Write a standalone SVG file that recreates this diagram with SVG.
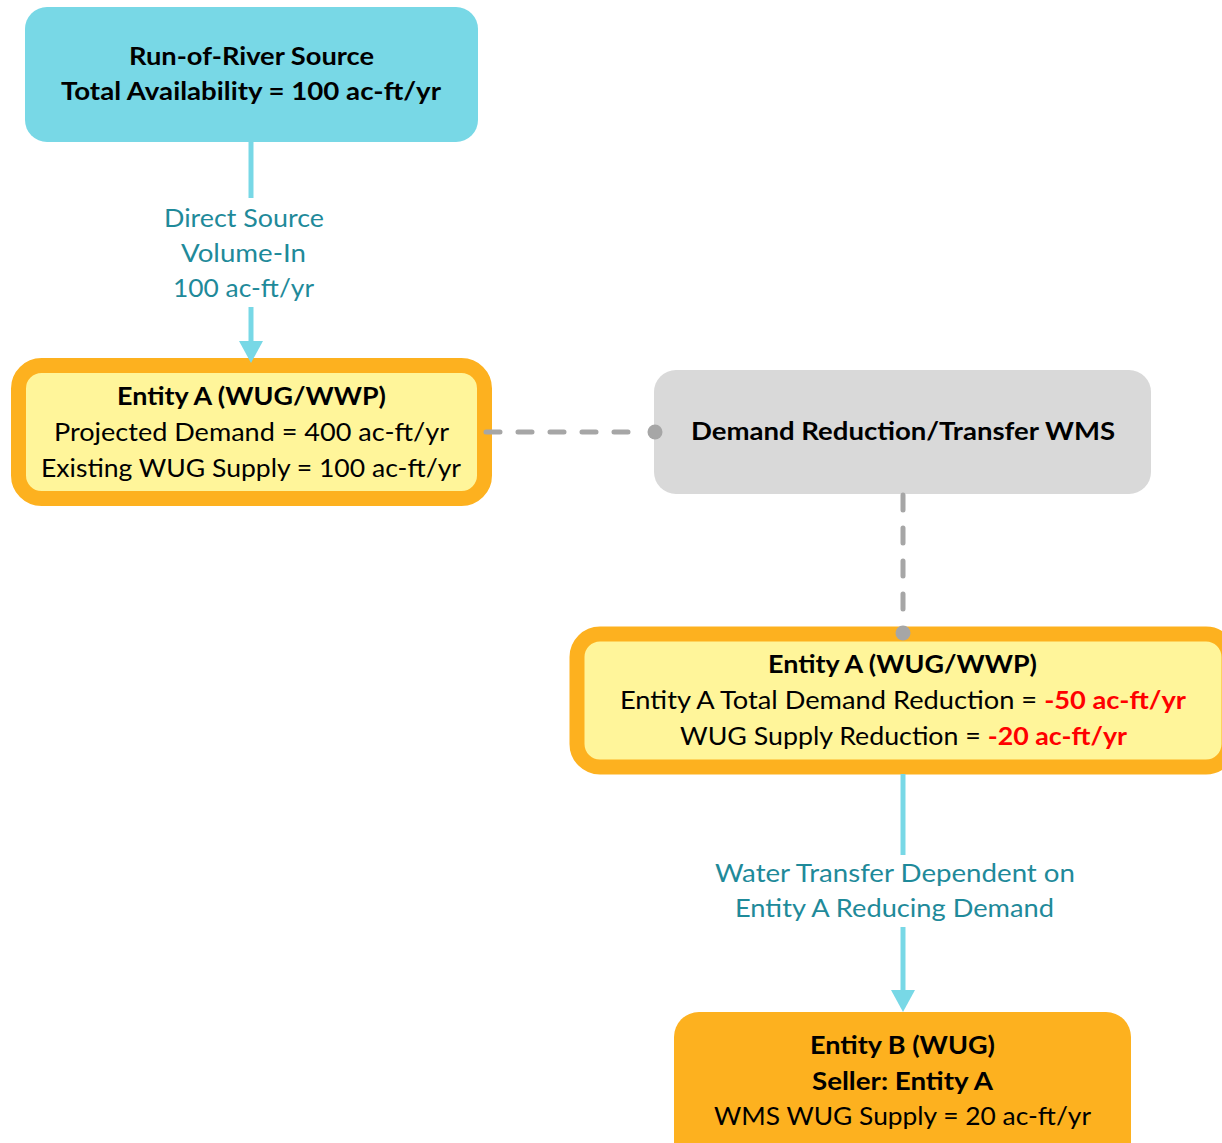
<svg xmlns="http://www.w3.org/2000/svg" width="1222" height="1143" viewBox="0 0 1222 1143">
<defs>
<style>
text{font-family:Lato,"Liberation Sans",sans-serif;font-size:25px;text-anchor:middle;fill:#000}
.b{font-weight:bold}
.red{fill:#FF0000;font-weight:bold}
.lbl{fill:#1F8A9A}
.flow{stroke:#78D8E6;stroke-width:5;fill:none}
.dash{stroke:#A6A6A6;stroke-width:5;fill:none;stroke-linecap:round}
.dot{fill:#A6A6A6}
.ent{fill:#FFF59A;stroke:#FDB11F;stroke-width:15}
</style>
<marker id="arr" markerUnits="userSpaceOnUse" markerWidth="24" markerHeight="24" viewBox="0 0 22 24" refX="0" refY="12" orient="auto">
<path d="M0,0 L22,12 L0,24 z" fill="#78D8E6"/>
</marker>
</defs>
<g id="source">
<rect x="25" y="7" width="453" height="135" rx="22" fill="#78D8E6"/>
<text class="b" x="251.5" y="65" textLength="245" lengthAdjust="spacingAndGlyphs">Run-of-River Source</text>
<text class="b" x="251" y="100" textLength="380" lengthAdjust="spacingAndGlyphs">Total Availability = 100 ac-ft/yr</text>
</g>
<g id="entityA1">
<rect class="ent" x="18.5" y="365.5" width="466" height="133" rx="23"/>
<text class="b" x="251.5" y="405" textLength="269" lengthAdjust="spacingAndGlyphs">Entity A (WUG/WWP)</text>
<text x="251.5" y="441" textLength="395" lengthAdjust="spacingAndGlyphs">Projected Demand = 400 ac-ft/yr</text>
<text x="251" y="477" textLength="420" lengthAdjust="spacingAndGlyphs">Existing WUG Supply = 100 ac-ft/yr</text>
</g>
<g id="wms">
<rect x="654" y="370" width="497" height="124" rx="22" fill="#D9D9D9"/>
<text class="b" x="903" y="440" textLength="424" lengthAdjust="spacingAndGlyphs">Demand Reduction/Transfer WMS</text>
</g>
<g id="entityA2">
<rect class="ent" x="577" y="634" width="652" height="133" rx="23"/>
<text class="b" x="902.5" y="673" textLength="269" lengthAdjust="spacingAndGlyphs">Entity A (WUG/WWP)</text>
<text x="903" y="709" textLength="566" lengthAdjust="spacingAndGlyphs">Entity A Total Demand Reduction = <tspan class="red">-50 ac-ft/yr</tspan></text>
<text x="903.5" y="745" textLength="447" lengthAdjust="spacingAndGlyphs">WUG Supply Reduction = <tspan class="red">-20 ac-ft/yr</tspan></text>
</g>
<g id="entityB">
<rect x="674" y="1012" width="457" height="160" rx="25" fill="#FDB11F"/>
<text class="b" x="902.5" y="1054" textLength="185" lengthAdjust="spacingAndGlyphs">Entity B (WUG)</text>
<text class="b" x="902.5" y="1090" textLength="181" lengthAdjust="spacingAndGlyphs">Seller: Entity A</text>
<text x="902.5" y="1125" textLength="377" lengthAdjust="spacingAndGlyphs">WMS WUG Supply = 20 ac-ft/yr</text>
</g>
<g id="connectors">
<line class="flow" x1="251" y1="142" x2="251" y2="198"/>
<line class="flow" x1="251" y1="307" x2="251" y2="341" marker-end="url(#arr)"/>
<text class="lbl" x="244" y="227" textLength="160" lengthAdjust="spacingAndGlyphs">Direct Source</text>
<text class="lbl" x="243.5" y="262" textLength="125" lengthAdjust="spacingAndGlyphs">Volume-In</text>
<text class="lbl" x="243.5" y="297" textLength="141" lengthAdjust="spacingAndGlyphs">100 ac-ft/yr</text>
<line class="dash" x1="486" y1="432" x2="640" y2="432" stroke-dasharray="14 18"/>
<circle class="dot" cx="655" cy="432" r="7.5"/>
<line class="dash" x1="903" y1="495" x2="903" y2="615" stroke-dasharray="15 18"/>
<circle class="dot" cx="903" cy="633" r="7.5"/>
<line class="flow" x1="903" y1="774" x2="903" y2="855"/>
<line class="flow" x1="903" y1="927" x2="903" y2="990" marker-end="url(#arr)"/>
<text class="lbl" x="895" y="882" textLength="360" lengthAdjust="spacingAndGlyphs">Water Transfer Dependent on</text>
<text class="lbl" x="894.5" y="917" textLength="319" lengthAdjust="spacingAndGlyphs">Entity A Reducing Demand</text>
</g>
</svg>
